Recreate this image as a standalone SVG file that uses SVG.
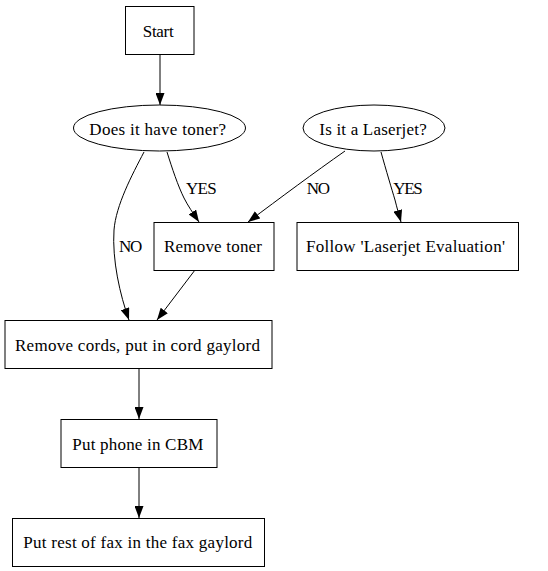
<svg xmlns="http://www.w3.org/2000/svg" width="548" height="571" viewBox="0 0 548 571">
<style>
.n{fill:#fff;stroke:#000;stroke-width:1}
.t{font-family:"Liberation Serif","Times New Roman",serif;font-size:17px;text-anchor:middle;fill:#000}
.e{fill:none;stroke:#000;stroke-width:1}
</style>
<defs>
<marker id="ah" viewBox="0 0 12 9" refX="12" refY="4.5" markerWidth="12" markerHeight="9" markerUnits="userSpaceOnUse" orient="auto">
<path d="M0,0 L12,4.5 L0,9 z" fill="#000"/>
</marker>
</defs>
<rect width="548" height="571" fill="#fff"/>
<g id="edges">
<path class="e" marker-end="url(#ah)" d="M160,54 L160,105"/>
<path class="e" marker-end="url(#ah)" d="M167,152 C172,168 178,186 184,198 C188,206 193,213 199,222"/>
<text class="t" x="201.3" y="194" textLength="30.7">YES</text>
<path class="e" marker-end="url(#ah)" d="M144,152 C132,175 116,205 114,230 C112,260 120,295 129,320"/>
<text class="t" x="130.7" y="251.5" textLength="23.3">NO</text>
<path class="e" marker-end="url(#ah)" d="M345,151 C315,172 280,198 248,222"/>
<text class="t" x="318.3" y="194" textLength="23.3">NO</text>
<path class="e" marker-end="url(#ah)" d="M381,152 C386,170 392,190 395,200 C397,208 399,215 401,222"/>
<text class="t" x="408" y="194" textLength="29.4">YES</text>
<path class="e" marker-end="url(#ah)" d="M195,270 L157,320"/>
<path class="e" marker-end="url(#ah)" d="M139,368 L139,419"/>
<path class="e" marker-end="url(#ah)" d="M139,467 L139,518"/>
</g>
<g id="start"><rect class="n" x="125.5" y="6.5" width="68.5" height="48"/><text class="t" x="158.2" y="36.5" textLength="31">Start</text></g>
<g id="toner"><ellipse class="n" cx="159.5" cy="128" rx="86" ry="23"/><text class="t" x="157.7" y="135" textLength="136.7">Does it have toner?</text></g>
<g id="laserjet"><ellipse class="n" cx="374" cy="128" rx="71" ry="23"/><text class="t" x="373" y="135" textLength="107.4">Is it a Laserjet?</text></g>
<g id="removetoner"><rect class="n" x="154" y="222.5" width="120" height="48"/><text class="t" x="213" y="252.3" textLength="98">Remove toner</text></g>
<g id="follow"><rect class="n" x="297" y="222.5" width="221.5" height="48"/><text class="t" x="405.5" y="252.3" textLength="199">Follow 'Laserjet Evaluation'</text></g>
<g id="cords"><rect class="n" x="5" y="320.5" width="267" height="48"/><text class="t" x="137.5" y="351" textLength="245">Remove cords, put in cord gaylord</text></g>
<g id="phone"><rect class="n" x="61" y="419.5" width="156" height="48"/><text class="t" x="137.8" y="450" textLength="131">Put phone in CBM</text></g>
<g id="rest"><rect class="n" x="12.5" y="518.5" width="252" height="48"/><text class="t" x="137.8" y="548.3" textLength="229">Put rest of fax in the fax gaylord</text></g>
</svg>
